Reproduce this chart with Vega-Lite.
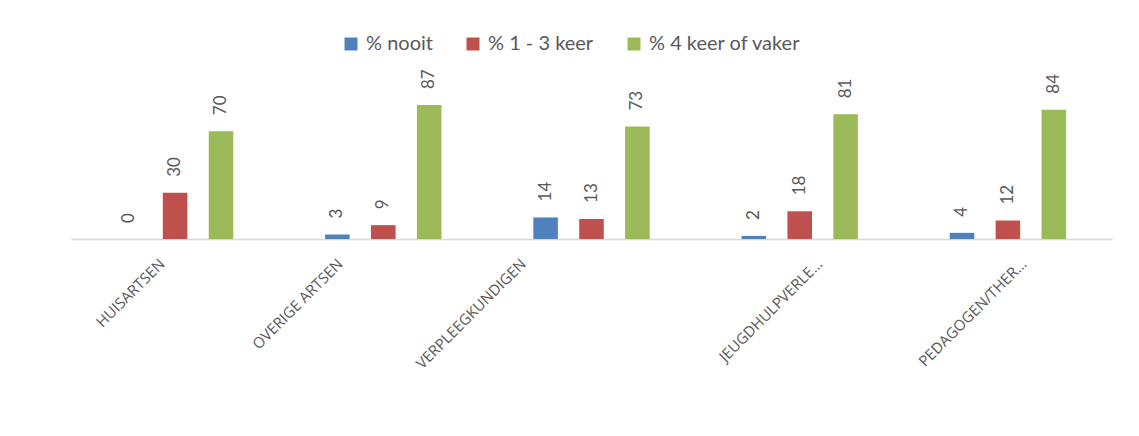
{
  "$schema": "https://vega.github.io/schema/vega-lite/v6.json",
  "autosize": {"type": "none"},
  "width": 1041,
  "height": 154,
  "padding": {"left": 71, "top": 85, "right": 27, "bottom": 197},
  "background": "white",
  "config": {
    "view": {"stroke": null},
    "font": "Lato",
    "axis": {"labelFont": "Open Sans", "labelColor": "#595959"},
    "legend": {"labelFont": "Lato"}
  },
  "data": {
    "values": [
      {"beroep": "HUISARTSEN", "reeks": "% nooit", "waarde": 0},
      {"beroep": "HUISARTSEN", "reeks": "% 1 - 3 keer", "waarde": 30},
      {"beroep": "HUISARTSEN", "reeks": "% 4 keer of vaker", "waarde": 70},
      {"beroep": "OVERIGE ARTSEN", "reeks": "% nooit", "waarde": 3},
      {"beroep": "OVERIGE ARTSEN", "reeks": "% 1 - 3 keer", "waarde": 9},
      {"beroep": "OVERIGE ARTSEN", "reeks": "% 4 keer of vaker", "waarde": 87},
      {"beroep": "VERPLEEGKUNDIGEN", "reeks": "% nooit", "waarde": 14},
      {"beroep": "VERPLEEGKUNDIGEN", "reeks": "% 1 - 3 keer", "waarde": 13},
      {"beroep": "VERPLEEGKUNDIGEN", "reeks": "% 4 keer of vaker", "waarde": 73},
      {"beroep": "JEUGDHULPVERLE…", "reeks": "% nooit", "waarde": 2},
      {"beroep": "JEUGDHULPVERLE…", "reeks": "% 1 - 3 keer", "waarde": 18},
      {"beroep": "JEUGDHULPVERLE…", "reeks": "% 4 keer of vaker", "waarde": 81},
      {"beroep": "PEDAGOGEN/THER…", "reeks": "% nooit", "waarde": 4},
      {"beroep": "PEDAGOGEN/THER…", "reeks": "% 1 - 3 keer", "waarde": 12},
      {"beroep": "PEDAGOGEN/THER…", "reeks": "% 4 keer of vaker", "waarde": 84}
    ]
  },
  "encoding": {
    "x": {
      "field": "beroep",
      "type": "nominal",
      "sort": null,
      "scale": {"paddingInner": 0, "paddingOuter": 0},
      "axis": {
        "title": null,
        "ticks": false,
        "domainColor": "#D9D9D9",
        "domainWidth": 1.5,
        "labelAngle": -45,
        "labelAlign": "right",
        "labelBaseline": "middle",
        "labelFontSize": 15,
        "labelPadding": 22,
        "labelOffset": {
          "condition": [
            {"test": "datum.value === 'OVERIGE ARTSEN'", "value": -43},
            {"test": "datum.value === 'VERPLEEGKUNDIGEN'", "value": -68},
            {"test": "datum.value === 'JEUGDHULPVERLE…'", "value": 20},
            {"test": "datum.value === 'PEDAGOGEN/THER…'", "value": 16}
          ],
          "value": -13
        }
      }
    },
    "xOffset": {
      "field": "reeks",
      "type": "nominal",
      "sort": ["% nooit", "% 1 - 3 keer", "% 4 keer of vaker"],
      "scale": {"paddingInner": 0.465, "paddingOuter": 1.157}
    },
    "y": {
      "field": "waarde",
      "type": "quantitative",
      "scale": {"domain": [0, 100]},
      "axis": null
    }
  },
  "layer": [
    {
      "mark": {"type": "bar", "clip": false},
      "encoding": {
        "color": {
          "field": "reeks",
          "type": "nominal",
          "sort": ["% nooit", "% 1 - 3 keer", "% 4 keer of vaker"],
          "scale": {
            "domain": ["% nooit", "% 1 - 3 keer", "% 4 keer of vaker"],
            "range": ["#4F81BD", "#C0504D", "#9BBB59"]
          },
          "legend": {
            "title": null,
            "orient": "none",
            "legendX": 270,
            "legendY": -51,
            "direction": "horizontal",
            "symbolType": "square",
            "symbolSize": 169,
            "symbolStrokeWidth": 0,
            "labelFontSize": 20,
            "labelColor": "#595959",
            "labelOffset": 5,
            "columnPadding": 30,
            "padding": 0
          }
        }
      }
    },
    {
      "mark": {
        "type": "text",
        "angle": -90,
        "align": "left",
        "baseline": "middle",
        "dx": 16,
        "fontSize": 17,
        "color": "#595959",
        "clip": false
      },
      "encoding": {
        "text": {"field": "waarde", "type": "quantitative"}
      }
    }
  ]
}
